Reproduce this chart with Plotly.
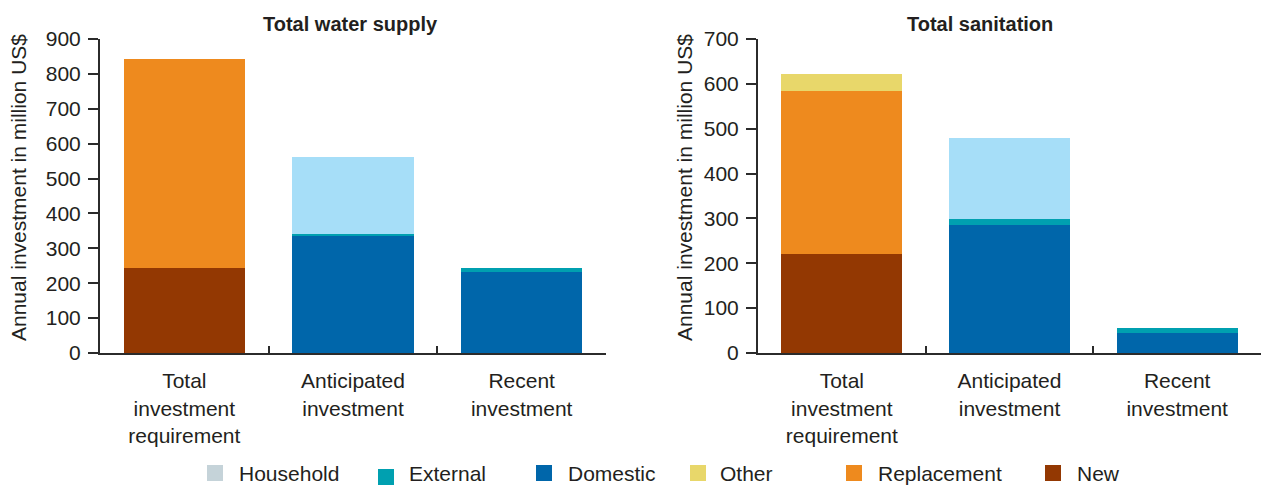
import plotly.graph_objects as go

W, H = 1266, 485

categories = ["Total<br>investment<br>requirement", "Anticipated<br>investment", "Recent<br>investment"]

# Total water supply (million US$ per year)
water_domestic = [None, 335, 232]
water_external = [None, 6, 12]
water_household = [None, 221, None]
water_new = [244, None, None]
water_replacement = [598, None, None]
water_other = [None, None, None]

# Total sanitation (million US$ per year)
san_domestic = [None, 285, 45]
san_external = [None, 13, 11]
san_household = [None, 182, None]
san_new = [220, None, None]
san_replacement = [365, None, None]
san_other = [36, None, None]

panel_titles = ["Total water supply", "Total sanitation"]
y_title = "Annual investment in million US$"
water_ticks = [0, 100, 200, 300, 400, 500, 600, 700, 800, 900]
san_ticks = [0, 100, 200, 300, 400, 500, 600, 700]

legend_labels = ["Household", "External", "Domestic", "Other", "Replacement", "New"]

COL = {
    "Household": "#a6def8",
    "External": "#00a0b0",
    "Domestic": "#0066aa",
    "Other": "#e8d76a",
    "Replacement": "#ee8a1e",
    "New": "#933802",
}
LEGEND_SWATCH = dict(COL, Household="#c5d3d9")

FONT = "Liberation Sans, Arial, Helvetica, sans-serif"
TXT = "#231f20"
AXC = "#2b2b2b"


def px_x(x):
    return x / W


def px_y(y):
    return 1 - y / H


fig = go.Figure()

panels = [
    ("x", "y", {"Domestic": water_domestic, "External": water_external, "Household": water_household,
                "New": water_new, "Replacement": water_replacement, "Other": water_other}),
    ("x2", "y2", {"Domestic": san_domestic, "External": san_external, "Household": san_household,
                  "New": san_new, "Replacement": san_replacement, "Other": san_other}),
]

for xa, ya, series in panels:
    for name in ["Domestic", "External", "Household", "New", "Replacement", "Other"]:
        fig.add_trace(go.Bar(
            x=categories, y=series[name], name=name, xaxis=xa, yaxis=ya,
            marker=dict(color=COL[name], line=dict(width=0)),
            width=0.72, showlegend=False,
        ))

ydom = [px_y(353), px_y(39)]

common_x = dict(
    type="category", showline=True, linecolor=AXC, linewidth=2,
    ticks="inside", tickson="boundaries", ticklen=7, tickwidth=2, tickcolor=AXC,
    tickfont=dict(family=FONT, size=21, color=TXT), showgrid=False, zeroline=False,
    range=[-0.5, 2.5], ticklabelstandoff=8, automargin=False,
)
common_y = dict(
    showline=True, linecolor=AXC, linewidth=2, ticks="outside", ticklen=10,
    tickwidth=2, tickcolor=AXC, tickfont=dict(family=FONT, size=21, color=TXT),
    showgrid=False, zeroline=False, domain=ydom, automargin=False,
    ticklabelstandoff=3,
)

fig.update_layout(
    width=W, height=H, margin=dict(l=0, r=0, t=0, b=0, autoexpand=False),
    paper_bgcolor="white", plot_bgcolor="white",
    barmode="stack", bargap=0.28, showlegend=False,
    font=dict(family=FONT, color=TXT),
    xaxis=dict(common_x, domain=[px_x(100), px_x(606)], anchor="y"),
    yaxis=dict(common_y, range=[0, 900], tickvals=water_ticks, anchor="x"),
    xaxis2=dict(common_x, domain=[px_x(758), px_x(1261)], anchor="y2"),
    yaxis2=dict(common_y, range=[0, 700], tickvals=san_ticks, anchor="x2"),
)

annotations = []
# Panel titles
for title, cx in zip(panel_titles, [350, 980]):
    annotations.append(dict(
        text="<b>" + title + "</b>", x=px_x(cx), y=px_y(24), xref="paper", yref="paper",
        xanchor="center", yanchor="middle", showarrow=False,
        font=dict(family=FONT, size=20, color=TXT),
    ))
# Y axis titles
for cx in [19, 685]:
    annotations.append(dict(
        text=y_title, x=px_x(cx), y=px_y(188), xref="paper", yref="paper",
        xanchor="center", yanchor="middle", textangle=-90, showarrow=False,
        font=dict(family=FONT, size=21, color=TXT),
    ))

# Legend row
swatch_left = [207, 378, 536, 690, 846, 1045]
swatch_top = [465, 469, 465, 465, 465, 465]
text_left = [237, 407, 566, 718, 876, 1075]
shapes = []
for lab, sx, sy, tx in zip(legend_labels, swatch_left, swatch_top, text_left):
    shapes.append(dict(
        type="rect", xref="paper", yref="paper",
        x0=px_x(sx), x1=px_x(sx + 16), y0=px_y(sy + 16), y1=px_y(sy),
        fillcolor=LEGEND_SWATCH[lab], line=dict(width=0),
    ))
    annotations.append(dict(
        text=lab, x=px_x(tx), y=px_y(473), xref="paper", yref="paper",
        xanchor="left", yanchor="middle", showarrow=False,
        font=dict(family=FONT, size=21, color=TXT),
    ))

fig.update_layout(annotations=annotations, shapes=shapes)

fig.write_html("out.html")
